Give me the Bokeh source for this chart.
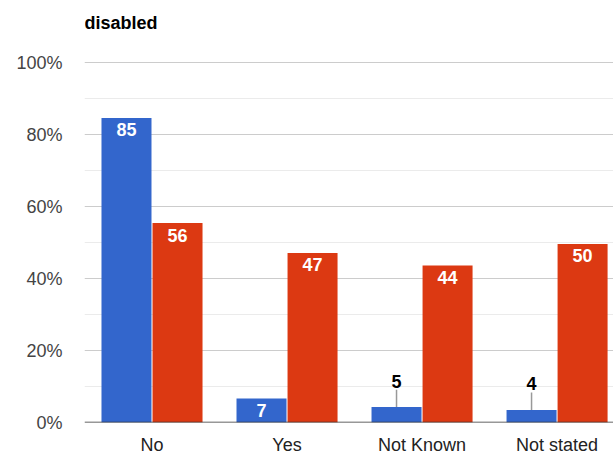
from bokeh.plotting import figure
from bokeh.models import Range1d, FixedTicker, ColumnDataSource, Label
from bokeh.core.properties import value
from bokeh.embed import file_html
from bokeh.resources import INLINE

title_text = "disabled"
categories = ["No", "Yes", "Not Known", "Not stated"]
blue_values = [84.6, 6.7, 4.3, 3.5]
red_values = [55.4, 47.1, 43.6, 49.6]
blue_labels = ["85", "7", "5", "4"]
red_labels = ["56", "47", "44", "50"]
y_ticks = [0, 20, 40, 60, 80, 100]
minor_ticks = [10, 30, 50, 70, 90]

BLUE = "#3366cc"
RED = "#dc3912"
FONT = "Liberation Sans"

x = list(range(len(categories)))
off = 0.189
bw = 50 / 135.0
XMAX = 3.418
YTOP = 100 + 62 / 3.6  # headroom above 100% holds the title

p = figure(frame_width=529, frame_height=422, output_backend="svg",
           toolbar_location=None, x_range=Range1d(-0.5, XMAX),
           y_range=Range1d(0, YTOP), min_border_left=84, min_border_right=0,
           min_border_top=0, min_border_bottom=31)
p.outline_line_color = None
p.background_fill_color = "white"
p.border_fill_color = "white"

p.add_layout(Label(x=-0.5, y=100, y_offset=40, text=title_text,
                   text_font=FONT, text_font_size="18px", text_font_style="bold",
                   text_color="#000000", text_align="left", text_baseline="middle"))

# minor gridlines
ms = ColumnDataSource(dict(x0=[-0.5]*len(minor_ticks), x1=[XMAX]*len(minor_ticks), y=minor_ticks))
p.segment(x0="x0", y0="y", x1="x1", y1="y", source=ms, line_color="#ebebeb", line_width=1)

p.ygrid.ticker = FixedTicker(ticks=y_ticks)
p.ygrid.grid_line_color = "#cccccc"
p.xgrid.grid_line_color = None

bx = [xi - off for xi in x]
rx = [xi + off for xi in x]
p.vbar(x=bx, top=blue_values, width=bw, color=BLUE, line_color=None)
p.vbar(x=rx, top=red_values, width=bw, color=RED, line_color=None)

# baseline
p.segment(x0=[-0.5], y0=[0], x1=[XMAX], y1=[0], line_color="#333333", line_width=1.5)

inside_x, inside_y, inside_t = [], [], []
out_x, out_y, out_t = [], [], []
for xi, v, t in zip(bx, blue_values, blue_labels):
    if v >= 6:
        inside_x.append(xi); inside_y.append(v); inside_t.append(t)
    else:
        out_x.append(xi); out_y.append(v); out_t.append(t)
for xi, v, t in zip(rx, red_values, red_labels):
    inside_x.append(xi); inside_y.append(v); inside_t.append(t)

p.text(x=inside_x, y=inside_y, text=inside_t, text_color="white",
       text_font=value(FONT), text_font_size="18px", text_font_style="bold",
       text_align="center", text_baseline="middle", y_offset=12)

p.segment(x0=out_x, y0=out_y, x1=out_x, y1=[v + 4.8 for v in out_y],
          line_color="#999999", line_width=1.5)
p.text(x=out_x, y=out_y, text=out_t, text_color="#000000",
       text_font=value(FONT), text_font_size="18px", text_font_style="bold",
       text_align="center", text_baseline="middle", y_offset=-26)

p.yaxis.ticker = FixedTicker(ticks=y_ticks)
p.yaxis.major_label_overrides = {t: f"{t}%" for t in y_ticks}
p.yaxis.axis_line_color = None
p.yaxis.major_tick_line_color = None
p.yaxis.minor_tick_line_color = None
p.yaxis.major_label_text_font = FONT
p.yaxis.major_label_text_font_size = "18px"
p.yaxis.major_label_text_color = "#444444"
p.yaxis.major_label_standoff = 16

p.xaxis.ticker = FixedTicker(ticks=x)
p.xaxis.major_label_overrides = {i: c for i, c in enumerate(categories)}
p.xaxis.axis_line_color = None
p.xaxis.major_tick_line_color = None
p.xaxis.minor_tick_line_color = None
p.xaxis.major_label_text_font = FONT
p.xaxis.major_label_text_font_size = "18px"
p.xaxis.major_label_text_color = "#222222"
p.xaxis.major_label_standoff = 6

open("out.html", "w").write(file_html(p, INLINE))
